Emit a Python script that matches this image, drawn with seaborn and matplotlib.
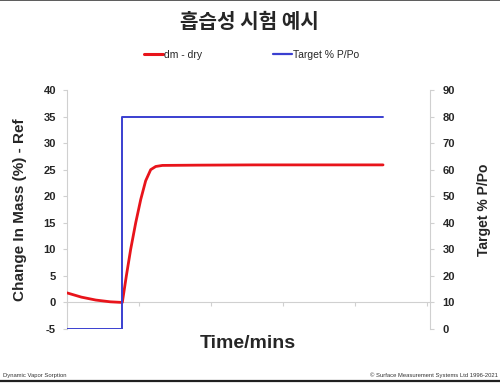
import matplotlib
matplotlib.use("Agg")
import matplotlib.pyplot as plt
from matplotlib.lines import Line2D
import seaborn as sns
import pandas as pd

# ---- data ----
mass_time = [0, 100, 200, 300, 384, 412, 442, 477, 512, 546, 581, 616, 662, 900, 1300, 1700, 2194]
mass_value = [1.8, 1.0, 0.45, 0.12, 0.0, 5.0, 10.0, 15.0, 19.4, 22.9, 25.0, 25.6, 25.8, 25.85, 25.9, 25.9, 25.9]
target_time = [0, 384, 384, 2194]
target_value = [0, 0, 80, 80]
left_ticks = [-5, 0, 5, 10, 15, 20, 25, 30, 35, 40]
right_ticks = [0, 10, 20, 30, 40, 50, 60, 70, 80, 90]
x_ticks = [0, 500, 1000, 1500, 2000, 2500]

sns.set_theme(style="white")
plt.rcParams['font.family'] = ['Liberation Sans', 'Noto Sans CJK KR', 'DejaVu Sans']
plt.rcParams['axes.unicode_minus'] = False

fig = plt.figure(figsize=(5.0, 3.83), dpi=100)
ax = fig.add_axes([0.134, 0.141, 0.726, 0.624])
ax2 = ax.twinx()

red = "#e8141b"
blue = "#3a3fd0"
spine_c = "#d0d0d0"

dm = pd.DataFrame({"t": mass_time, "v": mass_value})
tg = pd.DataFrame({"t": target_time, "v": target_value})
sns.lineplot(data=dm, x="t", y="v", ax=ax, color=red, lw=2.0, sort=False,
             estimator=None, errorbar=None, zorder=3)
sns.lineplot(data=tg, x="t", y="v", ax=ax2, color=blue, lw=1.4, sort=False,
             estimator=None, errorbar=None, zorder=2)

ax.set_xlim(0, 2520)
ax.set_ylim(-5, 40)
ax2.set_ylim(0, 90)
ax.set_yticks(left_ticks)
ax2.set_yticks(right_ticks)
ax.set_xticks(x_ticks)
ax.set_xticklabels([])

for a in (ax, ax2):
    for s in a.spines.values():
        s.set_color(spine_c)
        s.set_linewidth(0.8)
    a.spines['top'].set_visible(False)
ax.spines['right'].set_visible(False)
ax2.spines['left'].set_visible(False)
ax2.spines['bottom'].set_visible(False)
ax.spines['bottom'].set_position(('data', 0))

ax.tick_params(axis='y', which='both', left=True, length=3, color=spine_c, width=0.8,
               labelsize=8, pad=5)
ax.tick_params(axis='x', bottom=True, direction='out', length=3, color=spine_c, width=0.8)
ax2.tick_params(axis='y', right=True, length=3, color=spine_c, width=0.8, labelsize=8, pad=6)
for lab in ax.get_yticklabels() + ax2.get_yticklabels():
    lab.set_fontweight('bold')

ax.set_xlabel("")
ax.set_ylabel("Change In Mass (%) - Ref", fontsize=11, fontweight='bold', labelpad=12)
ax2.set_ylabel("Target % P/Po", fontsize=10, fontweight='bold', labelpad=16)
ax.grid(False)
ax2.grid(False)

fig.text(0.496, 1 - 343 / 383, "Time/mins", ha='center', va='center', fontsize=14, fontweight='bold')
fig.text(0.498, 1 - 22 / 383, "흡습성 시험 예시", ha='center', va='center', fontsize=14.5,
         fontweight='bold', family=['Noto Sans CJK KR', 'DejaVu Sans'])

handles = [Line2D([], [], color=red, lw=2.2), Line2D([], [], color=blue, lw=1.6)]
fig.legend(handles, ["dm - dry", "Target % P/Po"], loc='center', ncol=2,
           bbox_to_anchor=(0.503, 1 - 55 / 383), frameon=False, fontsize=7.5,
           handlelength=1.8, handletextpad=0.1, columnspacing=6.8)

fig.text(0.006, 1 - 375 / 383, "Dynamic Vapor Sorption", ha='left', va='center', fontsize=4.2, color='#333333')
fig.text(0.996, 1 - 375 / 383, "© Surface Measurement Systems Ltd 1996-2021", ha='right', va='center',
         fontsize=4.2, color='#333333')

fig.add_artist(Line2D([0, 1], [0.999, 0.999], transform=fig.transFigure, color='#404040', lw=1.2))
fig.add_artist(Line2D([0, 1], [0.004, 0.004], transform=fig.transFigure, color='#202020', lw=1.6))

fig.savefig("out.png", dpi=100)
